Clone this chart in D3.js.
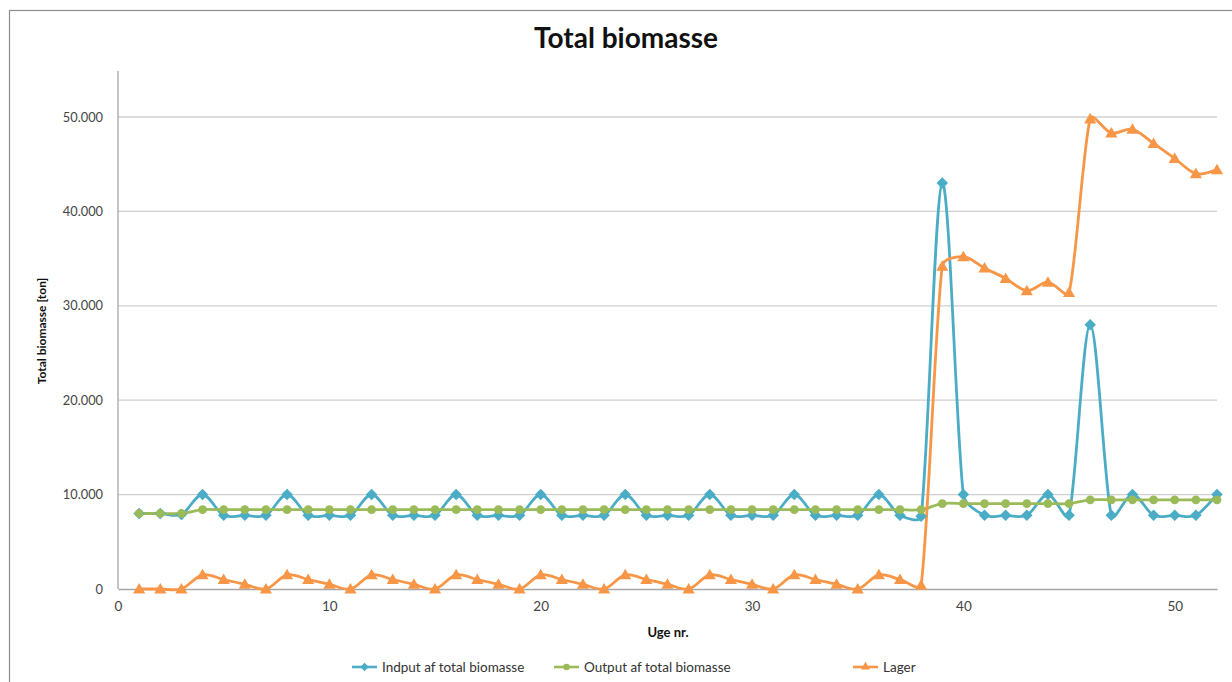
<!DOCTYPE html>
<html><head><meta charset="utf-8">
<script src="https://cdn.jsdelivr.net/npm/d3@7"></script>
<style>body{margin:0;background:#fff}svg{display:block}text{font-family:Lato,"Open Sans",sans-serif}</style>
</head><body><svg id="c" width="1232" height="682"></svg>
<script>
const weeks = [1,2,3,4,5,6,7,8,9,10,11,12,13,14,15,16,17,18,19,20,21,22,23,24,25,26,27,28,29,30,31,32,33,34,35,36,37,38,39,40,41,42,43,44,45,46,47,48,49,50,51,52];
const indput = [8000,8000,7900,10000, 7800,7800,7800,10000, 7800,7800,7800,10000, 7800,7800,7800,10000, 7800,7800,7800,10000, 7800,7800,7800,10000, 7800,7800,7800,10000, 7800,7800,7800,10000, 7800,7800,7800,10000, 7800,7700,43000,10000, 7800,7800,7800,10000, 7800,28000,7800,10000, 7800,7800,7800,10000];
const output = [8000,8000,8000,8400, 8400,8400,8400,8400, 8400,8400,8400,8400, 8400,8400,8400,8400, 8400,8400,8400,8400, 8400,8400,8400,8400, 8400,8400,8400,8400, 8400,8400,8400,8400, 8400,8400,8400,8400, 8400,8400,9050,9050, 9050,9050,9050,9050, 9050,9450,9450,9450, 9450,9450,9450,9450];
const lager = [0,0,0,1500, 1000,500,0,1500, 1000,500,0,1500, 1000,500,0,1500, 1000,500,0,1500, 1000,500,0,1500, 1000,500,0,1500, 1000,500,0,1500, 1000,500,0,1500, 1000,400,34200,35200, 34000,32900,31600,32500, 31400,49800,48300,48700, 47200,45600,44000,44400];
const seriesNames = ["Indput af total biomasse","Output af total biomasse","Lager"];
const seriesColors = ["#4BACC6","#9BBB59","#F79646"];
const yTicks = [0,10000,20000,30000,40000,50000];
const xTicks = [0,10,20,30,40,50];
const title = "Total biomasse", yTitle = "Total biomasse [ton]", xTitle = "Uge nr.";

// Excel-like smoothed line (Bezier with limited control vectors)
function ExcelCurve(context){ this._context = context; }
ExcelCurve.prototype = {
  areaStart(){}, areaEnd(){},
  lineStart(){ this._pts = []; },
  point(px,py){ this._pts.push([+px,+py]); },
  lineEnd(){
    const p = this._pts, n = p.length, c = this._context;
    if (!n) return;
    c.moveTo(p[0][0], p[0][1]);
    const dist = (a,b)=>Math.hypot(a[0]-b[0], a[1]-b[1]);
    for (let i=0;i<n-1;i++){
      const P0=p[Math.max(i-1,0)], P1=p[i], P2=p[i+1], P3=p[Math.min(i+2,n-1)];
      const d02=dist(P0,P2), d12=dist(P1,P2), d13=dist(P1,P3);
      let f0=1/6, f3=1/6;
      if (d02>0 && d02/6 >= d12/3) f0 = d12/d02/3;
      if (d13>0 && d13/6 >= d12/3) f3 = d12/d13/3;
      c.bezierCurveTo(P1[0]+(P2[0]-P0[0])*f0, P1[1]+(P2[1]-P0[1])*f0,
                      P2[0]-(P3[0]-P1[0])*f3, P2[1]-(P3[1]-P1[1])*f3, P2[0], P2[1]);
    }
  }
};
const curveExcel = ctx => new ExcelCurve(ctx);

const svg = d3.select("#c");
const loc = d3.formatLocale({decimal:",", thousands:".", grouping:[3], currency:["",""]});
const fmtY = v => v === 0 ? "0" : loc.format(",.0f")(v);

const x = d3.scaleLinear().domain([0,52]).range([118,1217]);
const y = d3.scaleLinear().domain([0,50000]).range([589,117]);

svg.append("rect").attr("x",9.5).attr("y",10.5).attr("width",1240).attr("height",700)
  .attr("fill","#fff").attr("stroke","#8c8c8c").attr("stroke-width",1.2);

// gridlines
svg.append("g").selectAll("line").data(yTicks.filter(d=>d>0)).join("line")
  .attr("x1",x(0)).attr("x2",x(52)).attr("y1",d=>y(d)).attr("y2",d=>y(d))
  .attr("stroke","#d0d0d0").attr("stroke-width",1.3);

// axes
const yAxis = d3.axisLeft(y).tickValues(yTicks).tickFormat(fmtY).tickSize(0).tickPadding(15);
const gy = svg.append("g").attr("transform",`translate(${x(0)},0)`).call(yAxis);
gy.select(".domain").remove();
gy.selectAll("text").attr("font-size",12.8).attr("fill","#444");
svg.append("line").attr("x1",x(0)).attr("x2",x(0)).attr("y1",71).attr("y2",y(0)).attr("stroke","#a6a6a6").attr("stroke-width",1.3);

const xAxis = d3.axisBottom(x).tickValues(xTicks).tickFormat(d=>d).tickSize(0).tickPadding(12);
const gx = svg.append("g").attr("transform",`translate(0,${y(0)})`).call(xAxis);
gx.select(".domain").attr("stroke","#a6a6a6").attr("stroke-width",1.3);
gx.selectAll("text").attr("font-size",13.5).attr("fill","#444");

// titles
svg.append("text").attr("x",626).attr("y",48).attr("text-anchor","middle").attr("font-size",28).attr("font-weight","bold").attr("fill","#111").text(title);
svg.append("text").attr("transform","translate(46,331) rotate(-90)").attr("text-anchor","middle").attr("font-size",12).attr("font-weight","bold").attr("fill","#111").text(yTitle);
svg.append("text").attr("x",668).attr("y",637).attr("text-anchor","middle").attr("font-size",13).attr("font-weight","bold").attr("fill","#111").text(xTitle);

const data = [indput, output, lager];
const symbols = [d3.symbolSquare, d3.symbolCircle, d3.symbolTriangle];
const symSizes = [66, 60, 64];
const symRot = [45, 0, 0];
const line = d3.line().x(d=>x(d[0])).y(d=>y(d[1])).curve(curveExcel);

data.forEach((vals,i)=>{
  const pts = weeks.map((w,j)=>[w, vals[j]]);
  svg.append("path").datum(pts).attr("d",line).attr("fill","none")
    .attr("stroke",seriesColors[i]).attr("stroke-width",2.8).attr("stroke-linejoin","round");
});
data.forEach((vals,i)=>{
  const pts = weeks.map((w,j)=>[w, vals[j]]);
  svg.append("g").selectAll("path").data(pts).join("path")
    .attr("transform",d=>`translate(${x(d[0])},${y(d[1]) + (i===2?1:0)}) rotate(${symRot[i]})`)
    .attr("d",d3.symbol(symbols[i], symSizes[i]))
    .attr("fill",seriesColors[i]);
});

// legend
const legX = [352, 554, 853];
const lg = svg.append("g");
seriesNames.forEach((n,i)=>{
  const g = lg.append("g").attr("transform",`translate(${legX[i]},667)`);
  g.append("line").attr("x1",0).attr("x2",25).attr("stroke",seriesColors[i]).attr("stroke-width",2.6);
  g.append("path").attr("transform",`translate(12.5,0) rotate(${symRot[i]})`).attr("d",d3.symbol(symbols[i], symSizes[i]*0.55)).attr("fill",seriesColors[i]);
  g.append("text").attr("x",30).attr("y",4.5).attr("font-size",13.5).attr("fill","#333").text(n);
});
</script></body></html>
